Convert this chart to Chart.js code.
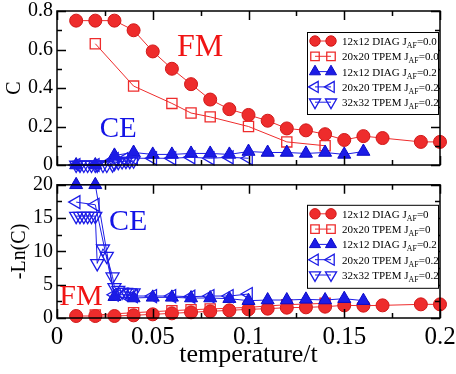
<!DOCTYPE html>
<html>
<head>
<meta charset="utf-8">
<script src="https://cdn.jsdelivr.net/npm/chart.js@4.4.1/dist/chart.umd.min.js"></script>
<style>
  html,body{margin:0;padding:0;background:#fff;}
  #wrap{position:relative;width:456px;height:374px;overflow:hidden;}
  #c1{position:absolute;left:0;top:0;}
  #c2{position:absolute;left:0;top:176px;}
</style>
</head>
<body>
<div id="wrap">
  <canvas id="c1" width="456" height="176"></canvas>
  <canvas id="c2" width="456" height="198"></canvas>
</div>
<script>
// ---------------- DATA ----------------
// 12x12 DIAG, J_AF = 0
const tDiag12J0 = [0.01,0.02,0.03,0.04,0.05,0.06,0.07,0.08,0.09,0.10,0.11,0.12,0.13,0.14,0.15,0.16,0.17,0.19,0.20];
const cDiag12J0 = [0.75,0.75,0.75,0.70,0.59,0.50,0.42,0.34,0.29,0.26,0.23,0.19,0.18,0.16,0.13,0.15,0.14,0.12,0.12];
const lnDiag12J0 = [0.3,0.3,0.3,0.4,0.55,0.7,0.85,1.0,1.15,1.3,1.4,1.55,1.6,1.7,1.9,1.85,1.9,2.05,2.05];
// 20x20 TPEM, J_AF = 0
const tTpem20J0 = [0.02,0.04,0.06,0.07,0.08,0.10,0.12,0.14];
const cTpem20J0 = [0.63,0.41,0.32,0.27,0.25,0.20,0.12,0.10];
const lnTpem20J0 = [0.45,0.8,1.1,1.25,1.35,1.6,2.0,2.2];
// 12x12 DIAG, J_AF = 0.2
const tDiag12J02 = [0.01,0.02,0.03,0.04,0.05,0.06,0.07,0.08,0.09,0.10,0.11,0.12,0.13,0.14,0.15,0.16];
const cDiag12J02 = [0.0,0.0,0.05,0.065,0.055,0.055,0.06,0.06,0.055,0.07,0.065,0.065,0.06,0.065,0.055,0.07];
const lnDiag12J02 = [20,20,3.2,3.0,3.1,3.1,3.0,3.0,2.9,2.6,2.7,2.7,2.8,2.7,2.9,2.6];
// 20x20 TPEM, J_AF = 0.2
const tTpem20J02 = [0.01,0.02,0.03,0.035,0.04,0.05,0.06,0.07,0.08,0.09,0.10];
const cTpem20J02 = [0.0,0.0,0.03,0.03,0.035,0.035,0.035,0.04,0.035,0.04,0.035];
const lnTpem20J02 = [17.4,17.0,3.5,3.5,3.3,3.3,3.3,3.2,3.3,3.3,3.6];
// 32x32 TPEM, J_AF = 0.2
const tTpem32J02 = [0.010,0.012,0.014,0.016,0.018,0.020,0.021,0.024,0.026,0.029,0.030,0.032,0.034,0.036,0.038,0.040];
const cTpem32J02 = [0,0,0,0,0,0,0,0,0,0.002,0.01,0.015,0.018,0.02,0.02,0.022];
const lnTpem32J02 = [15.3,15.3,15.3,15.3,15.3,15.3,8.2,10.4,9.3,6.2,4.6,4.2,3.9,3.9,3.8,3.8];

// legend texts (J_{AF} = subscript)
const legendTop = ["12x12 DIAG J_{AF}=0.0","20x20 TPEM J_{AF}=0.0","12x12 DIAG J_{AF}=0.2","20x20 TPEM J_{AF}=0.2","32x32 TPEM J_{AF}=0.2"];
const legendBottom = ["12x12 DIAG J_{AF}=0","20x20 TPEM J_{AF}=0","12x12 DIAG J_{AF}=0.2","20x20 TPEM J_{AF}=0.2","32x32 TPEM J_{AF}=0.2"];

// axis ticks
const xTickLabels = ["0","0.05","0.1","0.15","0.2"];
const yTopTickLabels = ["0","0.2","0.4","0.6","0.8"];
const yBottomTickLabels = ["0","5","10","15","20"];

// annotations [text, x, y]
const annTop = [["FM",0.0747,0.608],["CE",0.032,0.187]];
const annBottom = [["CE",0.0371,14.4],["FM",0.0125,3.16]];

// ---------------- STYLE ----------------
const RED = '#ee2c2c', RED_EDGE = '#d01818', BLUE = '#1c1ce6', BLUE_EDGE = '#0a0ac8';
const FONT = "'Liberation Serif', 'Times New Roman', serif";
Chart.defaults.font.family = FONT;
Chart.defaults.color = '#000';

function pts(xs, ys){ return xs.map((x,i)=>({x:x,y:ys[i]})); }

const styles = [
  {pointStyle:'circle', rotation:0, radius:6.5, bg:RED, border:RED_EDGE, line:RED, bw:1},
  {pointStyle:'rect', rotation:0, radius:7.2, bg:'rgba(0,0,0,0)', border:RED, line:RED, bw:1.3},
  {pointStyle:'triangle', rotation:0, radius:7.5, bg:BLUE, border:BLUE_EDGE, line:BLUE, bw:1},
  {pointStyle:'triangle', rotation:-90, radius:7.5, bg:'rgba(0,0,0,0)', border:BLUE, line:BLUE, bw:1.3},
  {pointStyle:'triangle', rotation:180, radius:7.5, bg:'rgba(0,0,0,0)', border:BLUE, line:BLUE, bw:1.3}
];

function makeDatasets(series, labels){
  return series.map((s,i)=>{
    const st = styles[i];
    return {
      label: labels[i],
      data: pts(s[0], s[1]),
      showLine: true,
      borderColor: st.line,
      borderWidth: 1,
      pointStyle: st.pointStyle,
      pointRotation: st.rotation,
      pointRadius: st.radius,
      pointHoverRadius: st.radius,
      pointBackgroundColor: st.bg,
      pointBorderColor: st.border,
      pointBorderWidth: st.bw,
      backgroundColor: st.bg,
      tension: 0,
      clip: false,
      order: 5 - i
    };
  });
}

function isMajor(v, step){ const r = v/step; return Math.abs(r - Math.round(r)) < 1e-6; }

// frame + inward ticks
const framePlugin = {
  id:'frame',
  afterDatasetsDraw(chart, args, opts){
    const {ctx, chartArea:a} = chart;
    const xs = chart.scales.x, ys = chart.scales.y;
    ctx.save();
    ctx.strokeStyle = '#000';
    ctx.lineWidth = 1.5;
    ctx.strokeRect(a.left, a.top, a.right-a.left, a.bottom-a.top);
    ctx.beginPath();
    xs.ticks.forEach(t=>{
      const px = Math.round(xs.getPixelForValue(t.value)) + 0.5;
      const len = isMajor(t.value, opts.xMajor) ? 9 : 5;
      ctx.moveTo(px, a.bottom); ctx.lineTo(px, a.bottom - len);
      ctx.moveTo(px, a.top); ctx.lineTo(px, a.top + len);
    });
    ys.ticks.forEach(t=>{
      const py = Math.round(ys.getPixelForValue(t.value)) + 0.5;
      const len = isMajor(t.value, opts.yMajor) ? 9 : 5;
      ctx.moveTo(a.left, py); ctx.lineTo(a.left + len, py);
      ctx.moveTo(a.right, py); ctx.lineTo(a.right - len, py);
    });
    ctx.stroke();
    ctx.restore();
  }
};

function drawMarker(ctx, st, x, y, r){
  ctx.save();
  ctx.fillStyle = st.bg; ctx.strokeStyle = st.border; ctx.lineWidth = st.bw;
  if (Chart.helpers && Chart.helpers.drawPoint){
    Chart.helpers.drawPoint(ctx, {pointStyle:st.pointStyle, rotation:st.rotation, radius:r, borderWidth:st.bw}, x, y);
  } else {
    ctx.beginPath(); ctx.arc(x,y,r,0,Math.PI*2); ctx.fill(); ctx.stroke();
  }
  ctx.restore();
}

function drawSubText(ctx, text, x, y, size){
  const m = text.match(/^(.*)_\{(.*)\}(.*)$/);
  const parts = m ? [[m[1],0,size],[m[2],3,size*0.72],[m[3],0,size]] : [[text,0,size]];
  let cx = x;
  parts.forEach(p=>{
    ctx.font = p[2] + 'px ' + FONT;
    ctx.fillText(p[0], cx, y + p[1]);
    cx += ctx.measureText(p[0]).width;
  });
}

const legendPlugin = {
  id:'pairLegend',
  afterDraw(chart, args, opts){
    const {ctx, chartArea:a} = chart;
    const right = a.right - 2, left = right - 131;
    const top = a.top + opts.dy, h = opts.h;
    ctx.save();
    ctx.fillStyle = '#fff';
    ctx.fillRect(left, top, right-left, h);
    ctx.strokeStyle = '#000'; ctx.lineWidth = 1;
    ctx.strokeRect(left+0.5, top+0.5, right-left, h);
    chart.data.datasets.forEach((ds,i)=>{
      const st = styles[i];
      const y = top + 9 + i*15.3;
      const x1 = left + 8, x2 = left + 24;
      ctx.strokeStyle = st.line; ctx.lineWidth = 1;
      ctx.beginPath(); ctx.moveTo(x1,y); ctx.lineTo(x2,y); ctx.stroke();
      const r = st.pointStyle === 'circle' ? 5.2 : (st.pointStyle === 'rect' ? 6 : 6.4);
      drawMarker(ctx, st, x1, y, r);
      drawMarker(ctx, st, x2, y, r);
      ctx.fillStyle = '#000';
      ctx.textBaseline = 'alphabetic';
      ctx.textAlign = 'left';
      drawSubText(ctx, ds.label, left + 35, y + 4, 11);
    });
    ctx.restore();
  }
};

const annPlugin = {
  id:'ann',
  afterDatasetsDraw(chart, args, opts){
    const {ctx} = chart;
    const xs = chart.scales.x, ys = chart.scales.y;
    ctx.save();
    ctx.textAlign = 'center'; ctx.textBaseline = 'middle';
    opts.items.forEach(it=>{
      const txt = it[0];
      ctx.fillStyle = txt === 'FM' ? '#f01414' : '#1414e6';
      ctx.font = (opts.sizes[txt]) + 'px ' + FONT;
      ctx.fillText(txt, xs.getPixelForValue(it[1]), ys.getPixelForValue(it[2]));
    });
    ctx.restore();
  }
};

function xScale(showLabels, height){
  return {
    type:'linear', min:0, max:0.2,
    grid:{display:false, drawTicks:false}, border:{display:false},
    ticks:{
      display: showLabels, stepSize:0.025, autoSkip:false, maxRotation:0,
      padding:4, font:{size:25, family:FONT}, color:'#000',
      callback:(v)=> isMajor(v,0.05) ? xTickLabels[Math.round(v/0.05)] : ''
    },
    title: showLabels ? {display:true, text:'temperature/t', font:{size:26, family:FONT}, color:'#000', padding:{top:0,bottom:3}} : {display:false},
    afterFit:(s)=>{ s.height = height; s.paddingLeft = 0; s.paddingRight = 0; }
  };
}

function yScale(max, step, major, labels, title, titlePad){
  return {
    type:'linear', min:0, max:max,
    grid:{display:false, drawTicks:false}, border:{display:false},
    ticks:{
      stepSize:step, autoSkip:false, padding:4,
      font:{size:20, family:FONT}, color:'#000',
      callback:(v)=> isMajor(v,major) ? labels[Math.round(v/major)] : ''
    },
    title:{display:true, text:title, font:{size:20, family:FONT}, color:'#000', padding:{top:titlePad,bottom:0}},
    afterFit:(s)=>{ s.width = 57; s.paddingTop = 0; s.paddingBottom = 0; }
  };
}

// ---------------- TOP PANEL ----------------
new Chart(document.getElementById('c1'), {
  type:'scatter',
  data:{ datasets: makeDatasets([
    [tDiag12J0, cDiag12J0],[tTpem20J0, cTpem20J0],[tDiag12J02, cDiag12J02],[tTpem20J02, cTpem20J02],[tTpem32J02, cTpem32J02]
  ], legendTop)},
  options:{
    responsive:false, animation:false, devicePixelRatio:1,
    layout:{padding:{left:0,right:16,top:11,bottom:0}},
    scales:{ x:xScale(false, 11), y:yScale(0.8, 0.1, 0.2, yTopTickLabels, 'C', 3) },
    plugins:{
      legend:{display:false}, tooltip:{enabled:false},
      frame:{xMajor:0.05, yMajor:0.2},
      pairLegend:{dy:21, h:82},
      ann:{items:annTop, sizes:{FM:32, CE:29}}
    }
  },
  plugins:[framePlugin, annPlugin, legendPlugin]
});

// ---------------- BOTTOM PANEL ----------------
new Chart(document.getElementById('c2'), {
  type:'scatter',
  data:{ datasets: makeDatasets([
    [tDiag12J0, lnDiag12J0],[tTpem20J0, lnTpem20J0],[tDiag12J02, lnDiag12J02],[tTpem20J02, lnTpem20J02],[tTpem32J02, lnTpem32J02]
  ], legendBottom)},
  options:{
    responsive:false, animation:false, devicePixelRatio:1,
    layout:{padding:{left:0,right:16,top:8,bottom:0}},
    scales:{ x:xScale(true, 56), y:yScale(20, 2.5, 5, yBottomTickLabels, '-Ln(C)', 8) },
    plugins:{
      legend:{display:false}, tooltip:{enabled:false},
      frame:{xMajor:0.05, yMajor:5},
      pairLegend:{dy:20, h:83},
      ann:{items:annBottom, sizes:{FM:30, CE:30}}
    }
  },
  plugins:[framePlugin, annPlugin, legendPlugin]
});
</script>
</body>
</html>
